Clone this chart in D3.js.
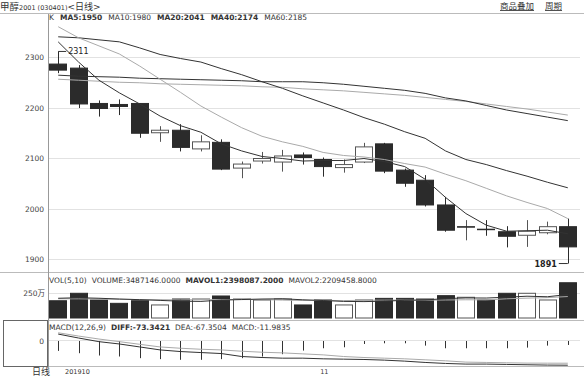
<!DOCTYPE html>
<html>
<head>
<meta charset="utf-8">
<script src="https://cdn.jsdelivr.net/npm/d3@7"></script>
<style>
  body { margin: 0; background: #fff; }
  svg { display: block; font-family: "DejaVu Sans", "Noto Sans CJK SC", sans-serif; }
  .lbl { fill: #333; font-size: 7.5px; }
  .axis-text { fill: #444; font-size: 7.5px; }
</style>
</head>
<body>
<div class="chart"></div>
<script>
// K-line chart: 甲醇2001 daily

var svgWidth = 584;
var svgHeight = 378;

// trading days shown
var dates = ["2019-10-15", "2019-10-16", "2019-10-17", "2019-10-18", "2019-10-21", "2019-10-22",
  "2019-10-23", "2019-10-24", "2019-10-25", "2019-10-28", "2019-10-29", "2019-10-30", "2019-10-31",
  "2019-11-01", "2019-11-04", "2019-11-05", "2019-11-06", "2019-11-07", "2019-11-08", "2019-11-11",
  "2019-11-12", "2019-11-13", "2019-11-14", "2019-11-15", "2019-11-18", "2019-11-19"];

var openP  = [2286, 2278, 2208, 2206, 2208, 2150, 2155, 2118, 2131, 2080, 2094, 2092, 2106,
              2097, 2081, 2092, 2128, 2076, 2056, 2007, 1964, 1959, 1954, 1947, 1952, 1964];
var highP  = [2311, 2284, 2214, 2216, 2208, 2163, 2167, 2145, 2137, 2093, 2112, 2116, 2111,
              2101, 2097, 2130, 2130, 2079, 2066, 2023, 1977, 1977, 1965, 1977, 1974, 1980];
var lowP   = [2268, 2199, 2182, 2185, 2140, 2132, 2113, 2113, 2076, 2060, 2089, 2073, 2087,
              2063, 2071, 2090, 2070, 2043, 2004, 1954, 1937, 1946, 1923, 1924, 1949, 1891];
var closeP = [2274, 2207, 2198, 2202, 2149, 2155, 2121, 2132, 2078, 2088, 2099, 2104, 2101,
              2083, 2087, 2122, 2074, 2050, 2007, 1957, 1964, 1958, 1945, 1955, 1964, 1924];

// moving averages
var ma5  = [2330, 2290, 2254, 2229, 2207, 2183, 2164, 2151, 2128, 2114, 2103, 2099, 2094,
            2095, 2095, 2099, 2093, 2083, 2058, 2022, 1990, 1967, 1955, 1956, 1957, 1950];
var ma10 = [2360, 2338, 2322, 2306, 2282, 2256, 2230, 2203, 2181, 2160, 2143, 2132, 2123,
            2111, 2105, 2102, 2097, 2089, 2082, 2068, 2055, 2040, 2025, 2012, 2000, 1980];
var ma20 = [2340, 2338, 2334, 2330, 2318, 2305, 2297, 2290, 2277, 2265, 2251, 2238, 2223,
            2209, 2195, 2180, 2167, 2152, 2139, 2114, 2097, 2087, 2075, 2064, 2052, 2041];
var ma40 = [2264, 2262, 2261, 2260, 2258, 2257, 2256, 2255, 2254, 2253, 2251, 2251, 2251,
            2249, 2246, 2242, 2238, 2234, 2228, 2219, 2213, 2204, 2195, 2188, 2181, 2174];
var ma60 = [2256, 2254, 2252, 2250, 2249, 2247, 2246, 2245, 2244, 2243, 2241, 2240, 2237,
            2235, 2233, 2230, 2227, 2224, 2220, 2216, 2212, 2207, 2202, 2197, 2191, 2185];

// volume (lots)
var volume = [1820000, 2510000, 1890000, 1580000, 1820000, 1430000, 1980000, 1980000, 2260000,
              1980000, 1890000, 1980000, 1430000, 1890000, 1430000, 1890000, 2040000, 2040000,
              1980000, 2290000, 2140000, 1890000, 2510000, 2510000, 1890000, 3487146];
var mavol1 = [2050000, 2100000, 2050000, 1980000, 1920000, 1850000, 1780000, 1760000, 1880000,
              1930000, 1980000, 2000000, 1910000, 1840000, 1760000, 1740000, 1780000, 1860000,
              1890000, 2020000, 2080000, 2070000, 2150000, 2240000, 2190000, 2398087];
var mavol2 = [2000000, 2000000, 1980000, 1950000, 1930000, 1920000, 1900000, 1920000, 1930000,
              1930000, 1930000, 1880000, 1840000, 1860000, 1830000, 1870000, 1880000, 1880000,
              1870000, 1890000, 1910000, 1900000, 2000000, 2060000, 2110000, 2209459];

// MACD(12,26,9)
var diff = [21, 9, -2, -9, -18, -27, -32, -35, -38, -47, -50, -52, -52,
            -54, -55, -56, -58, -61, -65, -68, -70, -70, -71, -72, -73, -73.34];
var dea  = [25, 15, 6, -2, -10, -18, -22, -25, -27, -31, -34, -36, -39,
            -42, -47, -50, -52, -54, -57, -60, -64, -65, -66, -67, -67.2, -67.35];
var macd = [-30, -37, -44, -47, -52, -55, -57, -57, -55, -52, -47, -40, -29,
            -22, -19, -9, -7, -7, -14, -22, -22, -22, -22, -20, -14, -11.98];

var priceTicks = [2300, 2200, 2100, 2000, 1900];

var svg = d3.select(".chart")
  .append("svg")
  .attr("width", svgWidth)
  .attr("height", svgHeight);

var left = 48, right = 578;

// scales
var x = d3.scaleBand().domain(dates).range([left, right]).paddingInner(0.13).paddingOuter(0.065);
var xc = function(i) { return x(dates[i]) + x.bandwidth() / 2; };
var y = d3.scaleLinear().domain([1900, 2300]).range([259, 57]);
var yVol = d3.scaleLinear().domain([0, 2500000]).range([320.4, 293.4]);
var yMacd = d3.scaleLinear().domain([0, -75]).range([341, 365.75]);

// frame lines
svg.append("line").attr("x1", 0).attr("x2", 584).attr("y1", 13.5).attr("y2", 13.5).attr("stroke", "#bbb");
svg.append("line").attr("x1", 0).attr("x2", 584).attr("y1", 272.5).attr("y2", 272.5).attr("stroke", "#bbb");
svg.append("line").attr("x1", 48).attr("x2", 584).attr("y1", 320.5).attr("y2", 320.5).attr("stroke", "#bbb");
svg.append("line").attr("x1", 48).attr("x2", 584).attr("y1", 366.5).attr("y2", 366.5).attr("stroke", "#bbb");
svg.append("rect").attr("x", 3.5).attr("y", 320.5).attr("width", 44).attr("height", 46)
  .attr("fill", "none").attr("stroke", "#666");
svg.append("line").attr("x1", 48.5).attr("x2", 48.5).attr("y1", 14).attr("y2", 367).attr("stroke", "#999");

// grid + price axis labels
var grid = svg.append("g");
priceTicks.forEach(function(t) {
  grid.append("line").attr("x1", 49).attr("x2", right + 2)
    .attr("y1", Math.round(y(t)) + 0.5).attr("y2", Math.round(y(t)) + 0.5)
    .attr("stroke", "#e2e2e2");
  svg.append("text").attr("class", "axis-text").attr("x", 44).attr("y", y(t) + 3)
    .attr("text-anchor", "end").text(t);
});
grid.append("line").attr("x1", 49).attr("x2", right + 2).attr("y1", 293.5).attr("y2", 293.5).attr("stroke", "#e2e2e2");
grid.append("line").attr("x1", 49).attr("x2", right + 2).attr("y1", 340.5).attr("y2", 340.5).attr("stroke", "#e2e2e2");
svg.append("text").attr("class", "axis-text").attr("x", 45).attr("y", 296).attr("text-anchor", "end").text("250万");
svg.append("text").attr("class", "axis-text").attr("x", 44).attr("y", 344).attr("text-anchor", "end").text("0");

// candles
var idx = d3.range(dates.length);
var candles = svg.append("g").selectAll("g").data(idx).enter().append("g");
candles.append("line")
  .attr("x1", function(i) { return Math.round(xc(i)) + 0.5; })
  .attr("x2", function(i) { return Math.round(xc(i)) + 0.5; })
  .attr("y1", function(i) { return y(highP[i]); })
  .attr("y2", function(i) { return y(lowP[i]); })
  .attr("stroke", function(i) { return closeP[i] >= openP[i] ? "#555" : "#2b2b2b"; });
candles.append("rect")
  .attr("x", function(i) { return Math.round(x(dates[i])) + 0.5; })
  .attr("width", Math.round(x.bandwidth()) - 1)
  .attr("y", function(i) { return y(Math.max(openP[i], closeP[i])); })
  .attr("height", function(i) { return Math.max(0.5, Math.abs(y(openP[i]) - y(closeP[i]))); })
  .attr("fill", function(i) { return closeP[i] > openP[i] ? "#fff" : "#2b2b2b"; })
  .attr("stroke", function(i) { return closeP[i] > openP[i] ? "#555" : "#2b2b2b"; });

// moving average lines
var maLine = function(arr) {
  return d3.line().x(function(d, i) { return xc(i); }).y(function(d) { return y(d); })(arr);
};
[[ma60, "#aaa", 1], [ma40, "#333", 1], [ma20, "#333", 1], [ma10, "#aaa", 1], [ma5, "#333", 1]]
  .forEach(function(m) {
    svg.append("path").attr("d", maLine(m[0])).attr("fill", "none")
      .attr("stroke", m[1]).attr("stroke-width", m[2]);
  });

// high / low markers
var hiI = d3.maxIndex(highP), loI = d3.minIndex(lowP);
svg.append("line").attr("x1", xc(hiI)).attr("x2", xc(hiI) + 8)
  .attr("y1", y(highP[hiI])).attr("y2", y(highP[hiI])).attr("stroke", "#333");
svg.append("text").attr("x", xc(hiI) + 10).attr("y", y(highP[hiI]) + 3)
  .attr("font-size", "8px").attr("fill", "#222").text(highP[hiI]);
svg.append("line").attr("x1", xc(loI) - 9).attr("x2", xc(loI))
  .attr("y1", y(lowP[loI])).attr("y2", y(lowP[loI])).attr("stroke", "#333");
svg.append("text").attr("x", xc(loI) - 11).attr("y", y(lowP[loI]) + 3).attr("text-anchor", "end")
  .attr("font-size", "8px").attr("font-weight", "bold").attr("fill", "#222").text(lowP[loI]);

// volume bars
svg.append("g").selectAll("rect").data(idx).enter().append("rect")
  .attr("x", function(i) { return Math.round(x(dates[i])) + 0.5; })
  .attr("width", Math.round(x.bandwidth()) - 1)
  .attr("y", function(i) { return yVol(volume[i]); })
  .attr("height", function(i) { return 318 - yVol(volume[i]); })
  .attr("fill", function(i) { return closeP[i] >= openP[i] ? "#fff" : "#2b2b2b"; })
  .attr("stroke", function(i) { return closeP[i] >= openP[i] ? "#555" : "#2b2b2b"; });
var volLine = function(arr) {
  return d3.line().x(function(d, i) { return xc(i); }).y(function(d) { return yVol(d); })(arr);
};
svg.append("path").attr("d", volLine(mavol2)).attr("fill", "none").attr("stroke", "#aaa");
svg.append("path").attr("d", volLine(mavol1)).attr("fill", "none").attr("stroke", "#333");

// MACD
svg.append("g").selectAll("line").data(idx).enter().append("line")
  .attr("x1", function(i) { return Math.round(xc(i)) + 0.5; })
  .attr("x2", function(i) { return Math.round(xc(i)) + 0.5; })
  .attr("y1", yMacd(0))
  .attr("y2", function(i) { return yMacd(macd[i]); })
  .attr("stroke", "#333");
var macdLine = function(arr) {
  return d3.line().x(function(d, i) { return xc(i); }).y(function(d) { return yMacd(d); })(arr);
};
svg.append("path").attr("d", macdLine(dea)).attr("fill", "none").attr("stroke", "#aaa");
svg.append("path").attr("d", macdLine(diff)).attr("fill", "none").attr("stroke", "#333");

// header texts
var title = svg.append("text").attr("x", 0).attr("y", 10).attr("fill", "#333");
title.append("tspan").attr("font-size", "9.5px").text("甲醇");
title.append("tspan").attr("font-size", "6.5px").text("2001 (030401)");
title.append("tspan").attr("font-size", "9px").text("<日线>");

svg.append("text").attr("x", 500).attr("y", 9).attr("font-size", "8.5px").attr("fill", "#333")
  .attr("text-decoration", "underline").text("商品叠加");
svg.append("text").attr("x", 545).attr("y", 9).attr("font-size", "8.5px").attr("fill", "#333")
  .attr("text-decoration", "underline").text("周期");

// header rows: items laid out one after another
function header(yy, x0, gap, items) {
  var xx = x0;
  items.forEach(function(it) {
    var t = svg.append("text").attr("class", "lbl").attr("x", xx).attr("y", yy)
      .attr("font-weight", it[1] ? "bold" : "normal")
      .attr("fill", it[2] || "#333").text(it[0]);
    xx += t.node().getComputedTextLength() + gap;
  });
}
header(20, 49, 6, [["K"], ["MA5:1950", true], ["MA10:1980", false, "#999"],
  ["MA20:2041", true], ["MA40:2174", true], ["MA60:2185", false, "#999"]]);
header(283, 49, 5, [["VOL(5,10)"], ["VOLUME:3487146.0000"], ["MAVOL1:2398087.2000", true],
  ["MAVOL2:2209458.8000", false, "#999"]]);
header(330, 49, 5, [["MACD(12,26,9)"], ["DIFF:-73.3421", true], ["DEA:-67.3504", false, "#999"],
  ["MACD:-11.9835"]]);

// x labels
svg.append("text").attr("x", 32).attr("y", 375).attr("font-size", "9px").attr("fill", "#333").text("日线");
svg.append("text").attr("x", 65).attr("y", 374).attr("font-size", "6.5px").attr("fill", "#333").text("201910");
svg.append("text").attr("x", xc(13) - 3).attr("y", 374).attr("font-size", "6.5px").attr("fill", "#333").text("11");
</script>
</body>
</html>
